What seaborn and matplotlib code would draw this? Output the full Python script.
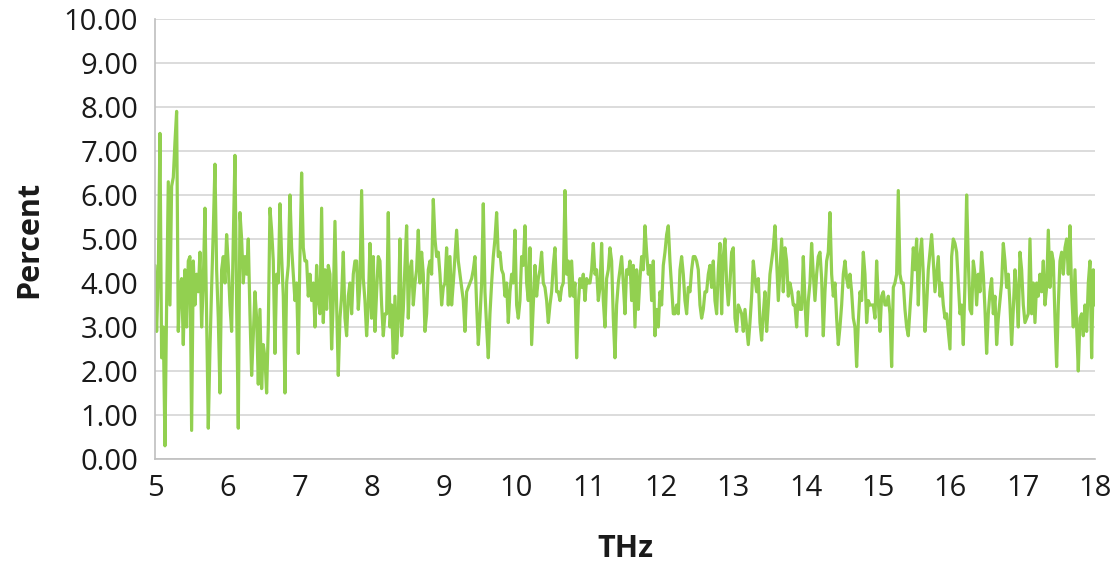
import numpy as np
import pandas as pd
import seaborn as sns
import matplotlib.pyplot as plt

# Percent values, left to right, in 12 consecutive stretches
# of the 5-18 THz axis (points are evenly spaced in frequency)
part01 = [4.4, 2.9, 4.2, 7.4, 2.3, 3.0, 0.3, 3.5, 6.3, 3.5, 6.2, 6.4, 7.2, 7.9, 2.9, 3.9,
          4.1, 2.6, 4.3, 3.0, 4.5, 4.6, 0.65, 4.5, 3.5, 4.2, 3.8, 4.7, 3.0, 4.0, 5.7, 3.2,
          0.7, 2.5, 3.9, 5.2, 6.7, 4.3, 3.2, 1.5, 4.3, 4.6, 4.0, 5.1, 4.4, 3.5]
part02 = [2.9, 5.0, 6.9, 3.5, 0.7, 5.6, 5.0, 4.0, 4.6, 4.2, 5.0, 3.3, 1.9, 2.8, 3.8, 3.2,
          1.7, 3.4, 1.6, 2.6, 2.3, 1.5, 3.0, 5.7, 5.2, 4.5, 2.4, 4.2, 4.0, 5.8, 4.6, 3.7,
          1.5, 4.0, 4.4, 6.0, 4.8, 4.2, 3.6, 4.0, 2.4, 4.6, 6.5, 4.8, 4.5, 4.5, 3.7, 4.2]
part03 = [3.6, 4.0, 3.0, 4.4, 3.6, 3.3, 5.7, 3.1, 4.3, 3.4, 4.4, 4.2, 2.5, 3.6, 5.4, 3.5,
          1.9, 3.2, 3.7, 4.7, 3.2, 2.8, 3.7, 4.0, 3.3, 4.2, 4.5, 4.5, 3.4, 4.0, 6.1, 4.1,
          3.6, 2.8, 3.5, 4.9, 3.2, 4.6, 2.9, 3.8, 4.6, 4.5, 3.5, 2.8, 3.3, 3.3, 5.6, 3.0]
part04 = [3.5, 2.3, 3.7, 2.4, 3.2, 5.0, 2.8, 3.4, 4.4, 5.3, 3.2, 4.3, 4.5, 3.5, 4.0, 4.3,
          5.2, 4.0, 4.7, 4.2, 2.9, 3.3, 4.3, 4.5, 4.2, 5.9, 5.0, 4.6, 4.7, 4.2, 3.5, 3.9,
          4.0, 4.8, 3.5, 4.6, 3.5, 4.0, 4.6, 5.2, 4.5, 4.2, 3.9, 3.6, 2.9, 3.8, 3.9, 4.0]
part05 = [4.1, 4.3, 4.6, 3.5, 2.6, 3.2, 4.0, 5.8, 3.8, 3.0, 2.3, 3.3, 4.0, 4.6, 5.0, 5.6,
          4.6, 4.7, 4.3, 4.2, 3.7, 4.0, 3.1, 3.8, 4.2, 4.0, 5.2, 3.5, 3.2, 3.6, 4.6, 4.4,
          5.3, 4.0, 3.6, 4.8, 2.6, 3.5, 4.4, 3.7, 4.1, 4.3, 4.7, 4.0, 3.9, 3.6, 3.1, 3.5]
part06 = [3.8, 4.4, 4.8, 3.8, 3.8, 3.6, 3.9, 4.0, 6.1, 4.2, 4.5, 3.7, 4.5, 3.7, 4.0, 2.3,
          3.5, 4.1, 3.9, 4.2, 3.6, 4.1, 4.0, 4.0, 4.3, 4.9, 4.2, 4.3, 3.6, 3.9, 4.9, 3.6,
          3.0, 4.1, 4.3, 4.8, 4.5, 3.2, 2.3, 3.5, 4.0, 4.3, 4.6, 4.0, 3.3, 4.3, 4.2, 4.5]
part07 = [3.6, 4.4, 3.0, 4.3, 3.4, 4.1, 4.6, 4.3, 5.3, 4.7, 4.2, 4.4, 3.6, 4.5, 2.8, 3.4,
          3.0, 3.8, 3.5, 4.4, 4.7, 5.1, 5.3, 4.5, 3.9, 3.3, 3.3, 3.5, 3.3, 4.3, 4.6, 4.2,
          3.6, 3.3, 3.9, 3.8, 4.3, 4.6, 4.6, 4.5, 4.3, 3.5, 3.2, 3.4, 3.8, 3.8, 4.2, 4.4]
part08 = [3.9, 4.5, 3.6, 3.3, 4.3, 4.9, 3.3, 4.6, 5.0, 4.0, 3.5, 4.0, 4.7, 4.8, 3.2, 2.9,
          3.5, 3.4, 3.3, 2.9, 3.4, 3.0, 2.6, 3.1, 3.7, 4.5, 4.1, 3.8, 4.1, 3.1, 2.7, 3.3,
          3.8, 2.9, 3.5, 4.2, 4.5, 4.8, 5.3, 4.5, 3.6, 4.3, 5.0, 3.8, 4.8, 4.5, 3.7, 4.0]
part09 = [3.8, 3.5, 3.5, 3.0, 3.8, 3.4, 3.4, 4.6, 3.6, 2.8, 3.6, 4.0, 4.9, 4.2, 3.6, 4.2,
          4.6, 4.7, 4.1, 2.8, 3.8, 4.5, 4.7, 5.6, 4.2, 3.7, 4.0, 3.2, 2.6, 3.0, 3.5, 4.2,
          4.5, 4.1, 3.9, 4.2, 3.8, 3.2, 3.0, 2.1, 3.1, 3.8, 3.6, 4.7, 4.2, 3.1, 3.6, 3.5]
part10 = [3.5, 3.5, 3.2, 4.5, 3.6, 2.9, 3.7, 3.8, 3.5, 3.5, 3.7, 3.3, 2.1, 3.9, 4.0, 4.2,
          6.1, 4.2, 4.0, 4.0, 3.4, 3.0, 2.8, 3.4, 4.0, 4.8, 4.3, 5.0, 3.5, 4.6, 5.0, 4.2,
          2.9, 3.5, 4.3, 4.7, 5.1, 4.5, 3.8, 4.2, 4.6, 3.7, 4.0, 3.5, 3.2, 3.3, 2.9, 2.5]
part11 = [4.6, 5.0, 4.9, 4.7, 4.0, 3.3, 3.5, 2.6, 4.0, 6.0, 4.5, 3.4, 3.3, 4.5, 4.2, 3.5,
          4.2, 3.8, 4.7, 4.2, 3.4, 2.4, 3.3, 3.8, 4.1, 3.3, 3.7, 2.6, 3.2, 3.6, 4.0, 4.9,
          4.5, 3.9, 4.2, 3.5, 2.6, 3.4, 4.3, 3.8, 3.0, 4.7, 4.3, 3.5, 3.1, 3.2, 3.3, 5.0]
part12 = [3.3, 4.0, 3.1, 4.0, 3.7, 4.2, 3.8, 4.5, 3.5, 3.9, 5.2, 3.9, 4.7, 4.5, 3.2, 2.1,
          3.5, 4.5, 4.7, 4.2, 4.8, 5.0, 4.2, 5.3, 3.8, 3.0, 4.3, 3.0, 2.0, 3.2, 3.3, 2.8,
          3.5, 2.9, 4.0, 4.5, 2.3, 4.3, 3.5]

thz_start, thz_stop = 5, 18
x_ticks = list(range(5, 19))
y_ticks = list(range(0, 11))

percent = np.concatenate([part01, part02, part03, part04, part05, part06,
                          part07, part08, part09, part10, part11, part12])
df = pd.DataFrame({"THz": np.linspace(thz_start, thz_stop, len(percent)),
                   "Percent": percent})

sns.set_style("white")
plt.rcParams["font.family"] = ["Open Sans", "DejaVu Sans"]

fig = plt.figure(figsize=(11.18, 5.67), dpi=100)
ax = fig.add_axes([0.1386, 0.1905, 0.8408, 0.776])

sns.lineplot(data=df, x="THz", y="Percent", color="#92d050", linewidth=2.3, ax=ax)

ax.set_xlim(thz_start, thz_stop)
ax.set_ylim(0, 10)
ax.set_yticks(y_ticks)
ax.set_yticklabels([f"{v:.2f}" for v in y_ticks])
ax.set_xticks(x_ticks)
ax.set_xticks(np.arange(5, 18.01, 0.5), minor=True)

ax.yaxis.grid(True, color="#d9d9d9", linewidth=1.3)
ax.xaxis.grid(False)
ax.set_axisbelow(True)
for s in ["top", "right"]:
    ax.spines[s].set_visible(False)
for s in ["left", "bottom"]:
    ax.spines[s].set_color("#bfbfbf")
    ax.spines[s].set_linewidth(1.2)

ax.tick_params(axis="y", length=0, pad=12, labelsize=21, labelcolor="#1a1a1a")
ax.tick_params(axis="x", which="both", direction="in", length=6, width=1.2,
               color="#bfbfbf", pad=11, labelsize=21, labelcolor="#1a1a1a")

ax.set_xlabel("THz", fontsize=22, fontweight="bold", color="#1a1a1a")
ax.set_ylabel("Percent", fontsize=22, fontweight="bold", color="#1a1a1a")
ax.xaxis.set_label_coords(0.5, -0.17)
ax.yaxis.set_label_coords(-0.118, 0.5)

fig.savefig("out.png", dpi=100)
